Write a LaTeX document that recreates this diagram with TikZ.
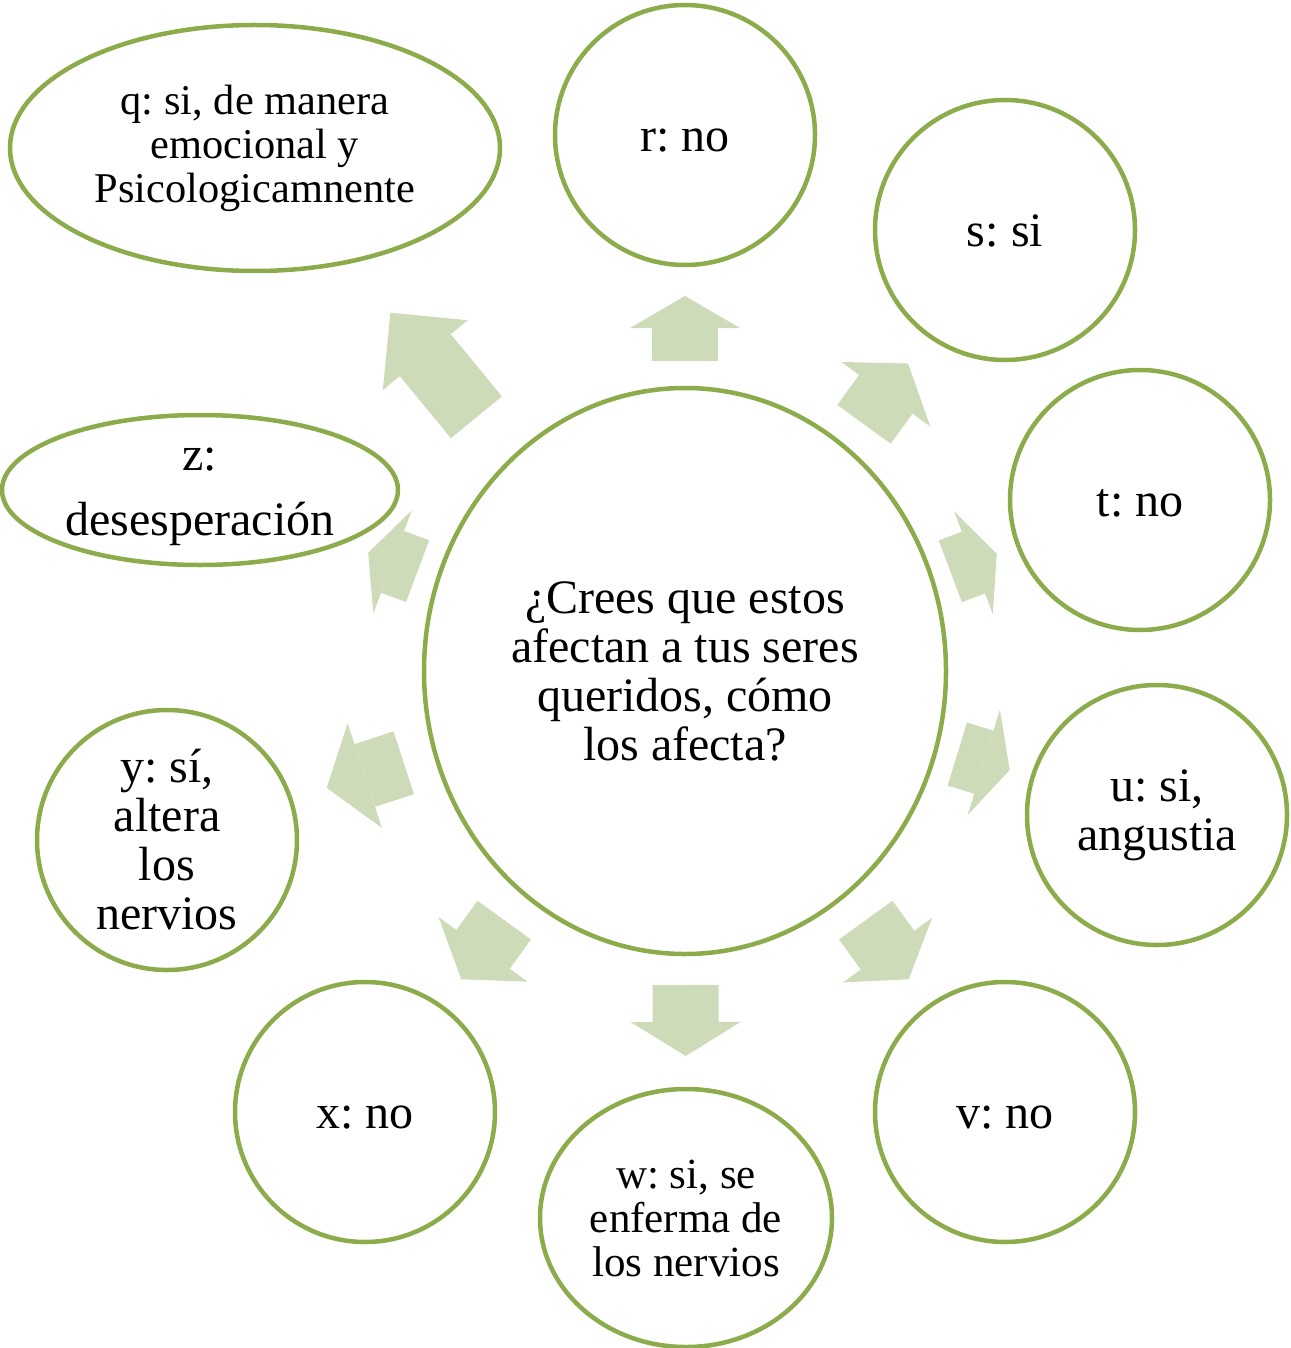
\documentclass[tikz,border=0pt]{standalone}
\usepackage{fontspec}
\setmainfont{Liberation Serif}
\usetikzlibrary{shapes.geometric,arrows.meta}
\definecolor{bubbleline}{RGB}{140,172,76}
\definecolor{arrowfill}{RGB}{205,219,184}
\frenchspacing
\tikzset{
	bubble/.style={draw=bubbleline, line width=4.5pt, fill=white, align=center, inner sep=0pt, outer sep=0pt, font=\fontsize{48}{49}\selectfont},
	ring/.style={bubble, circle, minimum size=260pt},
	oneline/.style={ring, text height=42.8pt, text depth=10.4pt},
	oval/.style={bubble, ellipse},
	radarrow/.style={draw=arrowfill, line width=66pt, -{Triangle[length=#1pt, width=110pt, line width=0pt]}}
}
\begin{document}
\begin{tikzpicture}[x=1pt,y=-1pt]
	\useasboundingbox (0,0) rectangle (1290,1348);
	\node[oval, minimum width=522pt, minimum height=566pt] (pregunta) at (685,671) {¿Crees que estos\\afectan a tus seres\\queridos, cómo\\los afecta?};
	\node[oval, minimum width=490pt, minimum height=246pt, font=\fontsize{42.4}{44}\selectfont] (resq) at (255,148) {q: si, de manera\\emocional y\\Psicologicamnente};
	\node[oneline] (resr) at (685,135) {r: no};
	\node[oneline] (ress) at (1005,230) {s: si};
	\node[oneline] (rest) at (1140,500) {t: no};
	\node[ring] (resu) at (1157,815) {u: si,\\angustia\vphantom{l}};
	\node[oneline] (resv) at (1005,1112) {v: no};
	\node[oval, minimum width=292pt, minimum height=258pt, font=\fontsize{43}{44}\selectfont] (resw) at (686,1218) {w: si, se\\enferma de\\los nervios};
	\node[oneline] (resx) at (365,1112) {x: no};
	\node[ring] (resy) at (167,840) {y: sí,\\altera\\los\\nervios};
	\node[oval, minimum width=396pt, minimum height=150pt, inner ysep=-20pt, font=\fontsize{48}{65}\selectfont] (resz) at (200,490) {\begin{tabular}{@{}c@{}}z:\\desesperación\end{tabular}};
	% flechas
	\draw[radarrow=55, shorten <=55pt, shorten >=66pt] (pregunta) -- (resq);
	\draw[radarrow=32, shorten <=27pt, shorten >=31pt] (pregunta) -- (resr);
	\draw[radarrow=38, shorten <=30pt, shorten >=35pt] (pregunta) -- (ress);
	\draw[radarrow=25, shorten <=20pt, shorten >=23pt] (pregunta) -- (rest);
	\draw[radarrow=27, shorten <=22pt, shorten >=24pt] (pregunta) -- (resu);
	\draw[radarrow=36, shorten <=33pt, shorten >=34pt] (pregunta) -- (resv);
	\draw[radarrow=34, shorten <=31pt, shorten >=33pt] (pregunta) -- (resw);
	\draw[radarrow=37, shorten <=33pt, shorten >=34pt] (pregunta) -- (resx);
	\draw[radarrow=40, shorten <=33pt, shorten >=38pt] (pregunta) -- (resy);
	\draw[radarrow=26, shorten <=22pt, shorten >=29pt] (pregunta) -- (resz);
\end{tikzpicture}
\end{document}
